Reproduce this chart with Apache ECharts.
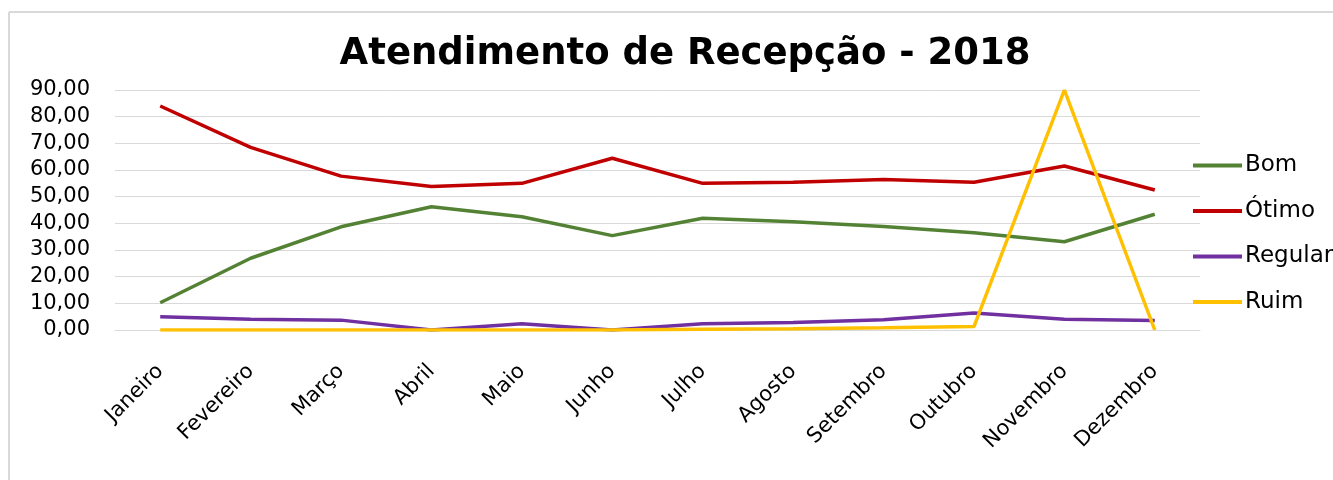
<!DOCTYPE html>
<html lang="pt">
<head>
    <meta charset="UTF-8">
    <title>Atendimento de Recepção - 2018</title>
    <script src="https://cdn.jsdelivr.net/npm/echarts@6/dist/echarts.min.js"></script>
    <style>
        html, body { margin: 0; padding: 0; background: #fff; overflow: hidden; }
        #main { width: 1333px; height: 480px; }
    </style>
</head>
<body>
<div id="main"></div>
<script type="text/javascript">
    // meses
    var meses = ['Janeiro', 'Fevereiro', 'Março', 'Abril', 'Maio', 'Junho',
        'Julho', 'Agosto', 'Setembro', 'Outubro', 'Novembro', 'Dezembro'];
    // valores (%)
    var bom = [10.2, 26.9, 38.7, 46.2, 42.5, 35.4, 41.9, 40.6, 38.8, 36.5, 33.1, 43.4];
    var otimo = [84.0, 68.5, 57.7, 53.8, 55.0, 64.4, 55.0, 55.4, 56.4, 55.4, 61.5, 52.5];
    var regular = [5.0, 4.0, 3.7, 0.0, 2.3, 0.0, 2.3, 2.8, 3.8, 6.4, 4.0, 3.6];
    var ruim = [0.0, 0.0, 0.0, 0.0, 0.0, 0.0, 0.3, 0.5, 0.8, 1.3, 90.0, 0.0];

    var fonte = 'DejaVu Sans';
    var myChart = echarts.init(document.getElementById('main'));

    function linha(nome, dados, cor) {
        return {
            name: nome,
            type: 'line',
            data: dados,
            symbol: 'none',
            lineStyle: { color: cor, width: 3.5 },
            itemStyle: { color: cor }
        };
    }

    var option = {
        animation: false,
        backgroundColor: '#fff',
        // moldura (so topo e esquerda aparecem)
        graphic: [{
            type: 'line',
            shape: { x1: 9, y1: 12, x2: 1340, y2: 12 },
            style: { stroke: '#d9d9d9', lineWidth: 2 },
            silent: true
        }, {
            type: 'line',
            shape: { x1: 9, y1: 12, x2: 9, y2: 490 },
            style: { stroke: '#d9d9d9', lineWidth: 2 },
            silent: true
        }],
        title: {
            text: 'Atendimento de Recepção - 2018',
            left: 680,
            textAlign: 'center',
            top: 31,
            textStyle: { fontFamily: fonte, fontSize: 37, fontWeight: 'bold', color: '#000' }
        },
        legend: {
            orient: 'vertical',
            left: 1188,
            top: 149,
            icon: 'rect',
            itemWidth: 49,
            itemHeight: 4,
            itemGap: 22.5,
            data: ['Bom', 'Ótimo', 'Regular', 'Ruim'],
            textStyle: { fontFamily: fonte, fontSize: 23, color: '#000', padding: [0, 0, 0, -2] }
        },
        grid: { left: 115, right: 133, top: 90, bottom: 150 },
        xAxis: {
            type: 'category',
            data: meses,
            axisLine: { lineStyle: { color: '#d9d9d9', width: 1 } },
            axisTick: { show: false },
            axisLabel: {
                rotate: 45,
                margin: 38,
                interval: 0,
                fontFamily: fonte,
                fontSize: 21,
                color: '#000'
            }
        },
        yAxis: {
            type: 'value',
            min: 0,
            max: 90,
            interval: 10,
            axisLine: { show: false },
            axisTick: { show: false },
            splitLine: { lineStyle: { color: '#d9d9d9', width: 1 } },
            axisLabel: {
                margin: 25,
                fontFamily: fonte,
                fontSize: 21,
                color: '#000',
                formatter: function (v) { return v.toFixed(2).replace('.', ','); }
            }
        },
        series: [
            linha('Bom', bom, '#548235'),
            linha('Ótimo', otimo, '#c00000'),
            linha('Regular', regular, '#7030a0'),
            linha('Ruim', ruim, '#ffc000')
        ]
    };

    myChart.setOption(option);
</script>
</body>
</html>
